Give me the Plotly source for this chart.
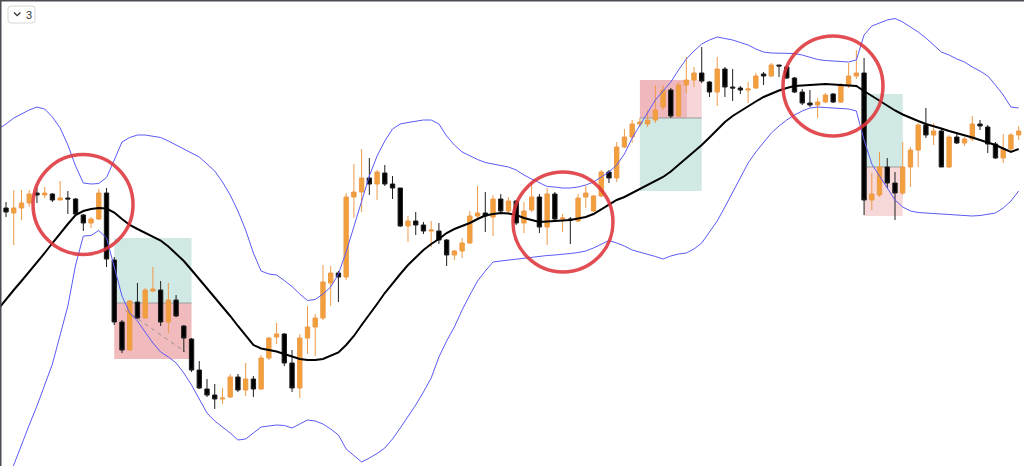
import plotly.graph_objects as go

# ---------------- data (arbitrary price units) ----------------
idx = list(range(133))

opens = [245, 258, 253, 258, 263, 273, 271, 272, 266, 268,
         267, 251, 243, 247, 273, 206, 144, 116, 164, 148,
         175, 176, 144, 166, 140, 127, 96, 77, 71, 67,
         69, 89, 76, 87, 77, 108, 129, 132, 103, 78,
         128, 139, 148, 183, 193, 189, 269, 274, 288, 282,
         293, 282, 278, 240, 245, 241, 235, 235, 226, 211,
         215, 223, 250, 253, 249, 267, 255, 265, 243, 256,
         269, 239, 272, 247, 247, 245, 269, 255, 270, 294,
         288, 319, 329, 342, 342, 346, 359, 376, 350, 381,
         386, 393, 384, 374, 397, 379, 378, 376, 378, 392,
         390, 401, 399, 388, 374, 363, 361, 364, 372, 364,
         381, 390, 393, 266, 271, 299, 283, 273, 299, 316,
         341, 331, 335, 299, 329, 323, 327, 342, 339, 322,
         308, 317, 331]

highs = [261, 264, 276, 276, 276, 278, 279, 273, 285, 275,
         268, 252, 249, 277, 278, 209, 146, 166, 183, 178,
         199, 185, 183, 171, 141, 128, 105, 87, 82, 78,
         92, 92, 103, 90, 111, 129, 143, 133, 116, 132,
         160, 152, 201, 200, 195, 273, 302, 317, 308, 296,
         301, 290, 278, 250, 254, 244, 245, 243, 227, 216,
         228, 255, 280, 274, 271, 272, 269, 266, 264, 284,
         272, 278, 274, 252, 249, 272, 280, 271, 296, 296,
         324, 337, 346, 348, 356, 381, 381, 378, 384, 409,
         399, 419, 385, 409, 399, 397, 380, 384, 393, 394,
         403, 401, 400, 389, 377, 376, 368, 373, 373, 383,
         403, 416, 408, 293, 314, 308, 294, 324, 319, 343,
         358, 343, 337, 331, 334, 329, 350, 346, 341, 324,
         332, 333, 340]

lows = [241, 249, 221, 246, 259, 263, 268, 264, 266, 252,
        251, 235, 238, 246, 199, 141, 113, 115, 147, 147,
        174, 140, 133, 149, 114, 94, 77, 69, 57, 62,
        68, 74, 70, 69, 76, 106, 122, 100, 74, 68,
        112, 110, 146, 160, 164, 186, 248, 254, 271, 266,
        280, 267, 239, 224, 231, 232, 219, 222, 200, 206,
        208, 222, 247, 234, 230, 252, 253, 241, 233, 254,
        233, 221, 245, 234, 222, 244, 258, 254, 269, 283,
        284, 318, 323, 339, 339, 343, 356, 348, 349, 373,
        379, 383, 369, 360, 369, 365, 372, 363, 377, 381,
        389, 389, 387, 373, 361, 359, 348, 363, 363, 363,
        378, 387, 251, 256, 269, 278, 246, 271, 279, 299,
        328, 321, 299, 298, 322, 320, 325, 336, 313, 307,
        303, 315, 326]

closes = [257, 254, 258, 263, 272, 271, 273, 266, 268, 267,
          252, 243, 247, 273, 207, 144, 116, 165, 148, 176,
          177, 144, 166, 150, 128, 96, 78, 71, 67, 68,
          89, 76, 87, 77, 108, 128, 132, 103, 78, 128,
          139, 148, 184, 193, 189, 269, 274, 288, 282, 294,
          282, 278, 240, 245, 241, 235, 236, 226, 211, 215,
          223, 250, 253, 250, 267, 255, 265, 243, 255, 269,
          239, 272, 247, 248, 246, 268, 273, 270, 294, 288,
          319, 329, 342, 344, 346, 356, 376, 350, 381, 386,
          393, 385, 374, 397, 379, 378, 376, 377, 390, 390,
          401, 400, 388, 374, 363, 361, 364, 371, 364, 381,
          390, 393, 266, 272, 299, 283, 273, 299, 316, 341,
          331, 335, 299, 329, 323, 327, 342, 340, 322, 308,
          317, 331, 335]

mid_band = [157, 167, 176, 185, 194, 203, 213, 223, 233, 242,
            251, 255, 257, 258, 257.5, 253.5, 247, 241, 237, 233,
            229.5, 225.5, 219.5, 212.5, 205, 196, 187, 178, 169, 160,
            150, 140, 130, 121, 117.5, 116, 114.5, 112, 109.5, 107,
            106, 106, 107, 110, 113.5, 121, 130, 141, 151, 162,
            173, 183, 192, 201, 208.5, 216, 222, 227, 233, 237,
            240, 243, 247, 250.5, 252, 253, 252.5, 251, 248, 246,
            244, 244.5, 245, 245.5, 246, 247.5, 249, 252, 256.5, 261.5,
            266, 269, 273, 277, 280.5, 284.5, 289, 294.5, 301, 307.5,
            314, 321, 328.5, 336, 344, 350, 355, 360, 364.5, 369,
            372.5, 375.5, 378, 380, 380.5, 381, 381.5, 382, 381.5, 381,
            380.5, 380, 375, 370, 365.5, 360, 355.5, 351.5, 348, 345,
            342, 340, 337.5, 335, 333, 330.5, 328.5, 326, 323.5, 321,
            317.5, 314, 317]

upper_band = [337, 342, 348, 352, 356, 359, 357, 349, 338, 321,
              300, 283, 282, 282.5, 288.5, 306, 324, 328.5, 331, 331,
              330, 328.5, 325, 321, 317, 313.5, 309, 302, 295, 284,
              271, 255, 236, 213, 195, 192, 191, 185.5, 179.5, 172,
              165.5, 166.5, 172, 179, 192, 214, 239, 266, 290, 310,
              325, 337, 342, 343.5, 344.5, 346, 346, 342, 330, 321,
              314, 310, 306.5, 303.5, 302, 300.5, 299, 296, 291, 287,
              283, 279.5, 279, 278, 278, 279, 281, 284, 289, 294,
              301, 312, 328, 341, 354, 366, 375, 384, 396, 407,
              415, 422, 426, 429, 427.5, 426, 423.5, 421, 417, 414,
              413, 413, 413, 412.5, 411, 408.5, 406.5, 405.5, 405, 404.5,
              404, 406, 431, 440, 443, 446, 447.5, 444, 439, 434,
              428, 421, 414, 411, 407, 404, 399, 395, 390, 381,
              371, 359, 358]

lower_band = [-39, -19, 3, 22, 41, 60, 81, 102, 131, 160,
              201, 230, 230.5, 235.5, 228, 198, 170, 153, 145, 134,
              123, 114, 109, 103, 93, 81, 67, 53, 45, 39,
              33, 26, 27, 33, 39, 40, 41, 40.5, 38, 42,
              46, 45, 42, 37, 31, 17, 10, 4, 8, 12.5,
              18, 27, 38, 49, 61, 74, 88, 109, 125, 139,
              156, 171, 185, 195, 204, 205, 206, 206.5, 207.5, 209,
              210, 210.5, 211, 211.5, 212.5, 213.5, 215, 218, 221.5, 225.5,
              223, 220, 216, 214, 211.5, 209.5, 207, 210, 212, 213,
              217, 223, 234, 245, 259, 274, 289, 303, 314, 323,
              333, 340, 346, 351, 355, 358, 359, 358.5, 358, 357.5,
              357, 355, 326, 302, 290, 278, 266, 259, 255, 253.5,
              253, 253, 252.5, 252, 251, 250.5, 250, 250.5, 251.5, 253,
              258, 265, 275]

# trade boxes: start/end candle, entry level, teal edge, pink edge
box_start = [15, 83, 112]
box_end = [25, 91, 117]
box_entry = [163, 348, 299]
box_teal_edge = [228, 275, 372]
box_pink_edge = [107, 386, 250]
box_pink_color = ["rgba(238,170,172,0.8)", "rgba(236,172,178,0.85)", "rgba(246,212,213,0.9)"]
box_b_split = 89.1          # darker pink part of the second box ends here

# dashed trade path in first box (candle, price)
path_x = [16.4, 24.2]
path_y = [156, 114]

# highlight circles: centre candle, centre price
circle_x = [10.96, 73.05, 107.98]
circle_y = [261.5, 244, 380]
circle_r_px = 50

# ---------------- figure ----------------
fig = go.Figure()

shapes = []
for s, e, en, t, p, pc in zip(box_start, box_end, box_entry, box_teal_edge, box_pink_edge, box_pink_color):
    shapes.append(dict(type="rect", xref="x", yref="y", x0=s, x1=e, y0=en, y1=t,
                       fillcolor="rgba(196,228,222,0.8)", line=dict(width=0), layer="below"))
    if s == 83:
        shapes.append(dict(type="rect", xref="x", yref="y", x0=s, x1=box_b_split, y0=en, y1=p,
                           fillcolor=pc, line=dict(width=0), layer="below"))
        shapes.append(dict(type="rect", xref="x", yref="y", x0=box_b_split, x1=e, y0=en, y1=p,
                           fillcolor="rgba(246,212,214,0.95)", line=dict(width=0), layer="below"))
    else:
        shapes.append(dict(type="rect", xref="x", yref="y", x0=s, x1=e, y0=en, y1=p,
                           fillcolor=pc, line=dict(width=0), layer="below"))
    shapes.append(dict(type="line", xref="x", yref="y", x0=s, x1=e, y0=en, y1=en,
                       line=dict(color="rgba(150,150,150,0.9)", width=1), layer="below"))

shapes.append(dict(type="line", xref="x", yref="y", x0=path_x[0], x1=path_x[1], y0=path_y[0], y1=path_y[1],
                   line=dict(color="rgba(140,140,140,0.9)", width=1, dash="4px,4px"), layer="below"))

for cx, cy in zip(circle_x, circle_y):
    shapes.append(dict(type="circle", xref="x", yref="y", xsizemode="pixel", ysizemode="pixel",
                       xanchor=cx, yanchor=cy, x0=-circle_r_px, x1=circle_r_px,
                       y0=-circle_r_px, y1=circle_r_px,
                       line=dict(color="rgba(221,52,58,0.88)", width=3.5), layer="above"))

# window frame (top and left edge)
shapes.append(dict(type="line", xref="paper", yref="paper", x0=0, x1=1, y0=1, y1=1,
                   line=dict(color="#4a4d52", width=3), layer="above"))
shapes.append(dict(type="line", xref="paper", yref="paper", x0=0, x1=0, y0=0, y1=1,
                   line=dict(color="#4a4d52", width=3), layer="above"))

# small dropdown button "⌄ 3"
shapes.append(dict(type="path", xref="paper", yref="paper", xsizemode="pixel", ysizemode="pixel",
                   xanchor=0, yanchor=1,
                   path="M 11,-6 L 32,-6 Q 35,-6 35,-9 L 35,-20 Q 35,-23 32,-23 L 11,-23 Q 8,-23 8,-20 L 8,-9 Q 8,-6 11,-6 Z",
                   fillcolor="white", line=dict(color="#d6d6d6", width=1), layer="above"))
shapes.append(dict(type="path", xref="paper", yref="paper", xsizemode="pixel", ysizemode="pixel",
                   xanchor=0, yanchor=1,
                   path="M 14,-12.5 L 17.2,-15.7 L 20.4,-12.5",
                   line=dict(color="#333333", width=1.3), layer="above"))

fig.add_trace(go.Candlestick(
    x=idx, open=opens, high=highs, low=lows, close=closes,
    increasing=dict(fillcolor="#F2A03C", line=dict(color="#EE9A48", width=1)),
    decreasing=dict(fillcolor="#000000", line=dict(color="#1E1E1E", width=1)),
    whiskerwidth=0, showlegend=False, hoverinfo="skip"))

fig.add_trace(go.Scatter(x=idx, y=upper_band, mode="lines",
                         line=dict(color="#5A5AF6", width=1), hoverinfo="skip", showlegend=False))
fig.add_trace(go.Scatter(x=idx, y=lower_band, mode="lines",
                         line=dict(color="#5A5AF6", width=1), hoverinfo="skip", showlegend=False))
fig.add_trace(go.Scatter(x=idx, y=mid_band, mode="lines",
                         line=dict(color="#000000", width=2), hoverinfo="skip", showlegend=False))

fig.update_layout(
    width=1024, height=466,
    margin=dict(l=0, r=0, t=0, b=0),
    paper_bgcolor="white", plot_bgcolor="white",
    showlegend=False,
    boxgap=0.25, boxgroupgap=0.25,
    xaxis=dict(range=[0.22, 132.69], visible=False, rangeslider=dict(visible=False), fixedrange=True),
    yaxis=dict(range=[0, 466], visible=False, fixedrange=True),
    shapes=shapes,
    annotations=[dict(text="3", xref="paper", yref="paper", x=28.5 / 1024, y=1 - 14.5 / 466,
                      showarrow=False, font=dict(family="Liberation Sans, Arial", size=11, color="#333333"),
                      xanchor="center", yanchor="middle")],
)

fig.write_html("out.html", config={"displayModeBar": False},
               post_script="document.body.style.margin='0';document.body.style.overflow='hidden';")
